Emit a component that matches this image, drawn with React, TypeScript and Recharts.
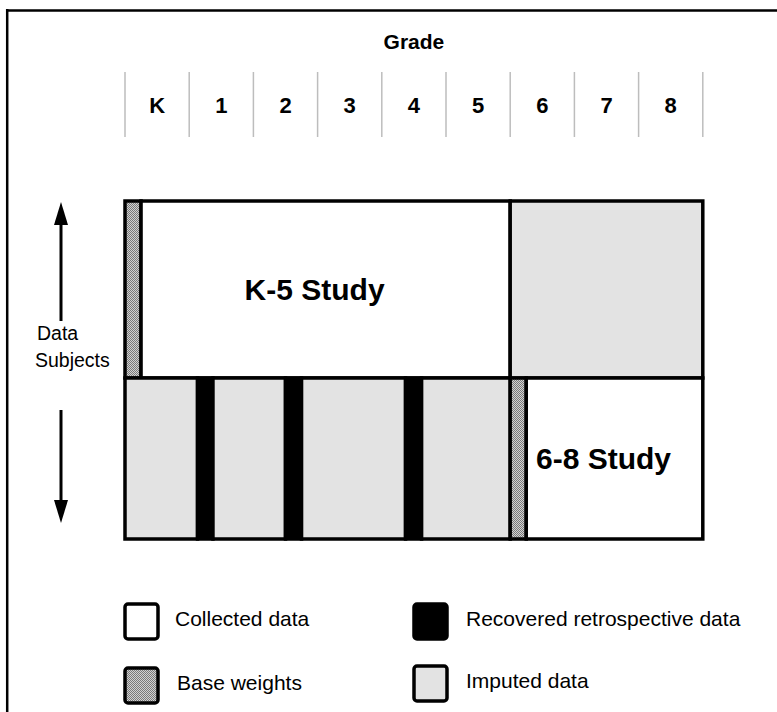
import { ComposedChart, XAxis, YAxis, ReferenceArea, Legend, Scatter } from "recharts";

const FONT = "'Liberation Sans', Arial, sans-serif";

// grade columns along the top axis (x units: one grade per unit, 0 = start of K)
const grades = ["K", "1", "2", "3", "4", "5", "6", "7", "8"];
const gradeMids = grades.map((g, i) => ({ grade: g, mid: i + 0.5, row: 0 }));

// the two cohorts (rows), y extents in row units
const rowNames = ["K-5 cohort", "6-8 cohort"];
const rowBottoms = [1, 0];
const rowTops = [2.1, 1];

// segment edges and kinds for each row in grade units
const topRowEdges = [0, 0.25, 6, 9];
const topRowKinds = ["base", "collected", "imputed"];
const bottomRowEdges = [0, 1.13, 1.37, 2.5, 2.75, 4.37, 4.62, 6, 6.25, 9];
const bottomRowKinds = [
  "imputed",
  "recovered",
  "imputed",
  "recovered",
  "imputed",
  "recovered",
  "imputed",
  "base",
  "collected",
];
const studyLabels = ["K-5 Study", "6-8 Study"];

const legendKinds = ["collected", "recovered", "base", "imputed"];
const legendLabels = [
  "Collected data",
  "Recovered retrospective data",
  "Base weights",
  "Imputed data",
];

const fills: Record<string, string> = {
  collected: "#ffffff",
  imputed: "#e3e3e3",
  recovered: "#000000",
  base: "url(#baseWeights)",
};

const WIDTH = 777;
const HEIGHT = 712;
const MARGIN = { top: 31, right: 74.2, bottom: 173, left: 125 };
const COL_W = (WIDTH - MARGIN.left - MARGIN.right) / grades.length;

function DotPattern({ id }: { id: string }) {
  return (
    <pattern id={id} width="2" height="2" patternUnits="userSpaceOnUse">
      <rect width="2" height="2" fill="#d2d2d2" />
      <rect width="1" height="1" fill="#7a7a7a" />
      <rect x="1" y="1" width="1" height="1" fill="#7a7a7a" />
    </pattern>
  );
}

function GradeTick(props: any) {
  const { x, payload, index } = props;
  const half = COL_W / 2;
  const label = grades[Math.floor(payload.value)];
  return (
    <g>
      <line x1={x - half} x2={x - half} y1={72} y2={137} stroke="#bdbdbd" strokeWidth={1.5} />
      {index === grades.length - 1 && (
        <line x1={x + half} x2={x + half} y1={72} y2={137} stroke="#bdbdbd" strokeWidth={1.5} />
      )}
      <text x={x} y={112.5} textAnchor="middle" fontSize={22} fontWeight="bold" fill="#000" fontFamily={FONT}>
        {label}
      </text>
    </g>
  );
}

function LegendContent() {
  const top = 590;
  const boxX = [125, 414];
  const boxY = [604, 668];
  return (
    <svg width={WIDTH} height={122} style={{ display: "block" }}>
      <defs>
        <DotPattern id="baseWeightsLegend" />
      </defs>
      {legendKinds.map((kind, i) => {
        const col = i % 2;
        const row = Math.floor(i / 2);
        const x = boxX[col];
        const y = boxY[row] - top - (col === 1 && row === 1 ? 2 : 0);
        return (
          <g key={kind}>
            <rect
              x={x}
              y={y}
              width={33}
              height={35}
              rx={3}
              fill={kind === "base" ? "url(#baseWeightsLegend)" : fills[kind]}
              stroke="#000"
              strokeWidth={3.5}
            />
            <text
              x={x + (col === 0 && row === 0 ? 50 : 52)}
              y={y + 22}
              fontSize={21}
              fill="#000"
              fontFamily={FONT}
            >
              {legendLabels[i]}
            </text>
          </g>
        );
      })}
    </svg>
  );
}

function rowAreas(edges: number[], kinds: string[], r: number) {
  return kinds.map((kind, i) => (
    <ReferenceArea
      key={`${rowNames[r]}-${i}`}
      x1={edges[i]}
      x2={edges[i + 1]}
      y1={rowBottoms[r]}
      y2={rowTops[r]}
      fill={fills[kind]}
      fillOpacity={1}
      stroke="#000"
      strokeWidth={3.5}
      ifOverflow="visible"
      label={
        kind === "collected"
          ? {
              value: studyLabels[r],
              position: "center",
              dx: -11,
              fontSize: 30,
              fontWeight: "bold",
              fill: "#000",
              fontFamily: FONT,
            }
          : undefined
      }
    />
  ));
}

export default function App() {
  return (
    <div
      style={{
        position: "absolute",
        left: 0,
        top: 0,
        width: WIDTH,
        height: HEIGHT,
        background: "#fff",
        fontFamily: FONT,
      }}
    >
      <ComposedChart width={WIDTH} height={HEIGHT} margin={MARGIN} data={gradeMids}>
        <defs>
          <DotPattern id="baseWeights" />
        </defs>
        <XAxis
          type="number"
          dataKey="mid"
          orientation="top"
          domain={[0, grades.length]}
          ticks={gradeMids.map((d) => d.mid)}
          interval={0}
          tick={<GradeTick />}
          tickLine={false}
          axisLine={false}
          height={170}
          allowDataOverflow
          label={{
            value: "Grade",
            position: "insideTop",
            offset: 3,
            fontSize: 21,
            fontWeight: "bold",
            fill: "#000",
            fontFamily: FONT,
          }}
        />
        <YAxis type="number" dataKey="row" domain={[0, 2.1]} hide allowDataOverflow />
        {rowAreas(topRowEdges, topRowKinds, 0)}
        {rowAreas(bottomRowEdges, bottomRowKinds, 1)}
        {/* grade anchors, invisible: gives the axes a series to scale against */}
        <Scatter dataKey="row" isAnimationActive={false} legendType="none" shape={() => <g />} />
        <Legend
          layout="horizontal"
          verticalAlign="middle"
          align="center"
          wrapperStyle={{ left: 0, top: 590, width: WIDTH, height: 122 }}
          content={() => <LegendContent />}
        />
      </ComposedChart>
      <svg
        width={WIDTH}
        height={HEIGHT}
        style={{ position: "absolute", left: 0, top: 0, pointerEvents: "none" }}
      >
        {/* frame */}
        <line x1={6} x2={WIDTH} y1={10.5} y2={10.5} stroke="#000" strokeWidth={2.5} />
        <line x1={7.2} x2={7.2} y1={9} y2={HEIGHT} stroke="#000" strokeWidth={2.5} />
        {/* Data Subjects arrows */}
        <line x1={61} x2={61} y1={321} y2={220} stroke="#000" strokeWidth={3} />
        <polygon points="61,202 54,225 68,225" fill="#000" />
        <line x1={61} x2={61} y1={410} y2={505} stroke="#000" strokeWidth={3} />
        <polygon points="61,523 54,500 68,500" fill="#000" />
        <text x={37} y={340} fontSize={19.5} fill="#000" fontFamily={FONT}>
          Data
        </text>
        <text x={35} y={367} fontSize={19.5} fill="#000" fontFamily={FONT}>
          Subjects
        </text>
      </svg>
    </div>
  );
}
